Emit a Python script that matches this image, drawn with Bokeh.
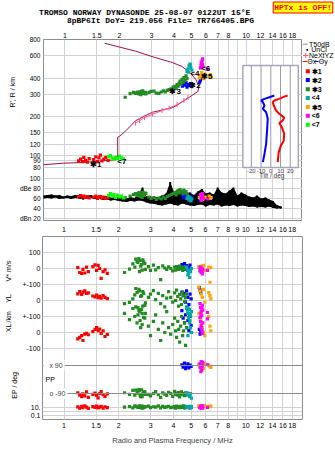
import math
from bokeh.plotting import figure
from bokeh.models import (Range1d, LinearScale, LogScale, LogAxis, FixedTicker,
                          Label, Span, CustomJSTickFormatter)
from bokeh.layouts import column, row
from bokeh.embed import file_html
from bokeh.resources import INLINE

# ---------------- tick values / labels ----------------
FREQ_TICKS = [1, 1.5, 2, 3, 4, 5, 6, 7, 8, 10, 12, 14, 16, 18]
FREQ_TICKS_MID = [1, 1.5, 2, 3, 4, 5, 6, 7, 8, 9, 10, 12, 14, 16, 18]
HEIGHT_TICKS = [80, 90, 100, 120, 150, 200, 300, 400, 600, 800]
AMP_TICKS = [20, 40, 60, 80, 100]
AMP_TICK_LABELS = ["dBn 20", "40", "60", "dBe 80", "100"]
TILT_TICKS = [-20, -10, 0, 10, 20]

# ---------------- model / profile curves ----------------
PROFILE_F = [0.761, 0.98, 1.26, 1.60, 1.91, 1.955, 1.955, 2.00, 2.17, 2.46, 3.04, 3.91,
             4.21, 4.66, 5.02, 5.42, 5.49, 5.28, 4.90, 4.43, 3.91, 3.10, 2.46, 1.654]
PROFILE_H = [84.0, 86.4, 87.5, 90.0, 91.9, 94.0, 138, 140, 155, 186, 216, 234,
             248, 272, 292, 314, 344, 389, 442, 492, 529, 582, 648, 748]
NEXT_F = [2.45, 2.58, 2.75, 3.04, 3.44, 3.76, 4.16, 4.54, 4.78]
NEXT_H = [178, 186, 196, 208, 223, 233, 248, 267, 282]

# ---------------- tilt profiles (inset) ----------------
TILTX_H = [292, 283, 275, 267, 259, 244, 230, 216, 192, 156, 122, 102, 88]
TILTX_DEG = [3.7, -1.4, -6.5, -9.9, -8.1, -6.5, -8.1, -4.8, -3.1, -3.8, -4.8, -6.5, -8.1]
TILTY_H = [292, 286, 275, 267, 259, 244, 223, 210, 196, 186, 178, 166, 147, 129, 119, 105, 88]
TILTY_DEG = [17.3, 13.8, 8.7, 3.7, 2.0, 3.1, 5.4, 8.7, 13.8, 12.2, 8.7, 11.2, 13.8, 13.2, 10.5, 8.1, 7.1]

# ---------------- amplitude trace (T50dB) ----------------
AMP_F = [0.761, 0.800, 0.842, 0.885, 0.931, 0.979, 1.03, 1.08, 1.14, 1.20, 1.26, 1.32, 1.39,
         1.46, 1.54, 1.62, 1.70, 1.79, 1.88, 1.98, 2.08, 2.19, 2.30, 2.42, 2.55, 2.68, 2.82,
         2.96, 3.11, 3.28, 3.44, 3.62, 3.81, 4.01, 4.21, 4.43, 4.66, 4.90, 5.15, 5.42, 5.70,
         5.99, 6.30, 6.63, 6.97, 7.33, 7.71, 8.11, 8.52, 8.96, 9.43, 9.91, 10.4, 11.0, 11.5,
         12.1, 12.8, 13.4, 14.1, 14.8, 15.6]
AMP_MIN = [60, 61, 60, 62, 59, 60, 61, 59, 61, 60, 58, 60, 61, 59, 60, 57, 58, 56, 57, 55,
           54, 53, 55, 54, 56, 55, 52, 50, 49, 47, 46, 48, 50, 47, 46, 50, 48, 46, 45, 47,
           48, 44, 47, 46, 48, 44, 46, 45, 47, 44, 46, 45, 43, 44, 42, 43, 42, 44, 41, 40, 40]
AMP_MAX = [66, 67, 68, 66, 67, 64, 66, 65, 67, 66, 64, 66, 67, 63, 66, 63, 65, 62, 64, 63,
           62, 60, 63, 61, 70, 82, 64, 64, 62, 63, 66, 70, 93, 72, 70, 75, 69, 72, 67, 74,
           79, 70, 72, 68, 82, 72, 70, 76, 82, 66, 72, 68, 64, 62, 66, 60, 62, 58, 55, 47, 44]

# ---------------- echo clusters ----------------
RED_F = [1.19, 1.22, 1.25, 1.27, 1.30, 1.33, 1.36, 1.44, 1.48, 1.51, 1.54, 1.57, 1.60, 1.64, 1.68, 1.73]
RED_H = [90, 93, 89, 96, 91, 88, 94, 92, 97, 89, 95, 100, 90, 93, 96, 91]
RED_AMP = [64, 66, 63, 65, 62, 64, 61, 63, 65, 60, 62, 64, 61, 63, 60, 62]
RED_VS = [5, -25, -31, -5, -28, 8, -20, 12, 23, -12, 19, 0, -62, -19, -8, -30]
RED_YL = [42, 56, 38, 52, 60, 45, 48, 28, 22, 34, 18, 26, 14, 30, 20, 12]
RED_XL = [-40, -30, -19, -50, -10, -6, -14, 6, 19, 31, 12, 22, -6, 10, -25, -12]
RED_PP = [-85, -100, -110, -92, -105, -80, -115, -95, -88, -102, -118, -90, -78, -98, -108, -93]
RED_EP = [12, 6, 15, 8, 20, 10, 5, 14, 9, 18, 7, 11, 16, 6, 13, 8]

GRN_F = [2.15, 2.29, 2.39, 2.45, 2.52, 2.58, 2.64, 2.71, 2.78, 2.91, 2.99, 3.10, 3.19, 3.30,
         3.40, 3.49, 3.58, 3.67, 3.76, 3.86, 3.96, 4.06, 4.11, 4.16, 4.22, 4.27, 4.32, 4.38,
         4.43, 4.49, 4.54, 4.60, 4.66, 4.72, 2.48, 2.55, 2.60, 2.62, 2.67, 2.69, 2.74, 2.80]
GRN_H = [283, 302, 309, 303, 311, 305, 314, 302, 309, 309, 314, 316, 305, 303, 311, 317, 311,
         320, 325, 329, 339, 345, 332, 355, 345, 364, 378, 357, 390, 371, 403, 382, 415, 396,
         306, 300, 312, 296, 308, 318, 305, 300]
GRN_AMP = [62, 65, 68, 70, 66, 72, 64, 69, 71, 63, 60, 62, 58, 61, 59, 63, 60, 64, 66, 68, 70,
           72, 67, 74, 76, 71, 78, 73, 75, 69, 77, 72, 74, 70, 67, 71, 64, 69, 62, 73, 66, 70]
GRN_VS = [-25, -4, 29, 8, 45, 62, 15, 54, 31, 12, -12, 21, -8, 5, -69, 17, 3, -5, 10, 0, -15,
          8, -10, 12, 4, -6, 15, -2, 9, -12, 6, -4, 2, 10, 58, 38, -20, 50, 25, -10, 42, -5]
GRN_YL = [-19, -12, 10, 35, 50, 69, 25, 56, -30, 19, 40, 62, 5, 45, -20, 30, -40, 15, 55, 20,
          -10, 48, 0, 65, 25, -35, 38, 10, -25, 52, 30, -5, 18, 40, 75, -45, 60, -60, 30, -80, 45, -15]
GRN_XL = [120, 80, 150, 100, 60, 140, 30, 165, 90, 40, -20, 70, 110, 20, -50, 60, 0, 130, 30,
          -10, 50, 90, 10, -30, 70, 20, -60, 40, 100, -20, 10, 60, -81, 30, 160, 110, 130, 75,
          145, 50, 95, 120]
GRN_PP = [-85, -95, -70, -100, -88, -65, -110, -92, -80, -96, -105, -90, -78, -98, -115, -86,
          -94, -102, -82, -90, -108, -76, -95, -88, -100, -84, -112, -92, -79, -97, -90, -104,
          -86, -93, -68, -75, -72, -100, -66, -110, -80, -95]
GRN_EP = [10, 14, 7, 20, 12, 9, 16, 6, 11, 18, 8, 13, 10, 22, 7, 15, 9, 12, 17, 8, 11, 14, 6,
          19, 10, 13, 8, 16, 12, 9, 21, 7, 11, 14, 15, 9, 20, 12, 7, 18, 10, 13]

BLU_F = [4.45, 4.52, 4.60, 4.66, 4.72, 4.80, 4.86, 4.93, 5.00, 5.55, 5.60, 5.65]
BLU_H = [345, 360, 352, 368, 340, 356, 348, 362, 344, 372, 385, 398]
BLU_AMP = [66, 62, 68, 60, 64, 58, 65, 61, 63, 60, 57, 62]
BLU_VS = [25, 10, 31, -5, 18, -12, 5, 22, 0, 8, -15, 12]
BLU_YL = [52, 31, 45, -10, 60, 20, -25, 40, 10, 81, 65, 50]
BLU_XL = [137, 90, 60, 110, 30, 75, 12, 100, 45, 20, -10, 5]
BLU_PP = [95, 80, 105, 70, 88, 100, 75, 92, 85, 98, 82, 90]
BLU_EP = [12, 9, 15, 8, 11, 14, 10, 7, 13, 16, 9, 12]

TEA_F = [4.72, 4.78, 4.84, 4.90, 4.96, 5.02, 4.80, 4.92]
TEA_H = [450, 470, 495, 515, 480, 460, 445, 505]
TEA_AMP = [60, 64, 57, 62, 55, 59, 63, 58]
TEA_VS = [5, -10, -30, -55, -20, 0, -40, -15]
TEA_YL = [-40, -60, -80, -55, -95, -70, -45, -85]
TEA_XL = [150, 120, 90, 60, 30, 0, -19, 75]
TEA_PP = [-85, -100, -95, -110, -90, -120, -88, -105]
TEA_EP = [10, 14, 8, 12, 16, 9, 11, 13]

ORG_F = [5.52, 5.60, 5.68, 5.76, 5.85, 5.95, 6.25, 6.35, 6.42]
ORG_H = [400, 420, 440, 410, 395, 430, 415, 425, 405]
ORG_AMP = [62, 60, 64, 58, 61, 63, 65, 60, 62]
ORG_VS = [10, -5, 15, 0, 19, -12, 8, -86, 5]
ORG_YL = [83, 60, 40, 20, 70, -11, 50, 30, 10]
ORG_XL = [119, 90, 60, 30, 0, -19, 100, 40, 10]
ORG_PP = [95, 80, 105, 88, 72, 100, 92, 85, 78]
ORG_EP = [20, 15, 25, 12, 18, 22, 16, 14, 19]

MAG_F = [5.60, 5.64, 5.68, 5.72, 5.76, 5.80, 5.66, 5.74, 6.15]
MAG_H = [480, 500, 520, 545, 565, 490, 530, 510, 470]
MAG_AMP = [68, 62, 58, 65, 70, 60, 56, 64, 59]
MAG_VS = [5, -10, -25, 0, -33, -5, 8, -18, -12]
MAG_YL = [-20, -45, -70, -95, -30, -60, -85, -50, -75]
MAG_XL = [95, 70, 45, 20, -6, 60, 30, 10, 85]
MAG_PP = [100, 75, 115, 60, 90, 110, 50, 85, 95]
MAG_EP = [8, 15, 5, 12, 20, 6, 10, 18, 9]

LIM_F = [1.74, 1.78, 1.82, 1.86, 1.90, 1.95, 2.00, 2.05, 2.10]
LIM_H = [97, 99, 95, 93, 96, 94, 98, 95, 93]
LIM_AMP = [66, 70, 64, 68, 62, 67, 63, 65, 61]

CLUSTER_NAMES = ["\u27311", "\u27312", "\u27313", "<4", "\u27315", "<6", "<7"]
CLUSTER_COLORS = ["#ff0000", "#0000ff", "#228b22", "#00a8a8", "#ffa500", "#ff00ff", "#00ff00"]

# ---------------- styling / geometry constants ----------------
FONT = "Liberation Sans"
MONO = "Liberation Mono"
GRID = "#d2d2d2"
FRAME = "#8c8c8c"
CRIMSON = "#a0104a"
PINK = "#ff5a8c"

F_LO, F_HI = 0.761, 20.5
H_LO, H_HI = 30.8, 800.0
AMPR_LO, AMPR_HI = 16.0, 378.0
TILT_LO, TILT_HI = -233.6, 32.6
INSET_T = (-28.7, 28.3)
INSET_H = (80, 500)

XL_LO, XL_HI = -543.75, 600.0
VS_RANGE = (XL_LO - 400, XL_HI - 400)
YL_RANGE = (XL_LO - 200, XL_HI - 200)
PP_RANGE = (-257.1, 919.3)
EP_RANGE = (10 ** -1.964, 10 ** 42.13)


def fmt(ticks, texts):
    return CustomJSTickFormatter(args=dict(tv=list(ticks), tt=list(texts)), code="""
        let best = 0, bd = Infinity;
        for (let i = 0; i < tv.length; i++) {
            const d = Math.abs(tv[i] - tick);
            if (d < bd) { bd = d; best = i; }
        }
        return tt[best];
    """)


def style_axis(ax, size="7px", standoff=2):
    ax.axis_line_color = None
    ax.major_tick_line_color = None
    ax.minor_tick_line_color = None
    ax.major_tick_out = 0
    ax.major_tick_in = 0
    ax.minor_tick_out = 0
    ax.minor_tick_in = 0
    ax.major_label_text_font = FONT
    ax.major_label_text_font_size = size
    ax.major_label_text_color = "black"
    ax.major_label_standoff = standoff


def lbl(fig, x, y, text, size="7px", font=FONT, color="black", align="left",
        angle=0, style="normal", xu="data", yu="data", **kw):
    fig.add_layout(Label(x=x, y=y, x_units=xu, y_units=yu, text=text, text_font=font,
                         text_font_size=size, text_color=color, text_align=align,
                         text_baseline="middle", angle=angle, angle_units="deg",
                         text_font_style=style, **kw))


def fnum(t):
    return "%g" % t


def aux(w, h):
    """plain pixel-space canvas for titles / legend (y grows downward)"""
    f = figure(width=w, height=h, x_range=Range1d(0, w), y_range=Range1d(h, 0),
               x_axis_location=None, y_axis_location=None, output_backend="svg",
               toolbar_location=None, min_border=0)
    f.grid.visible = False
    f.outline_line_color = None
    return f


# ======================= HEADER =======================
header = aux(335, 29)
lbl(header, 149, 12.3, "TROMSO NORWAY   DYNASONDE 25-08-07 0122UT 15\u00b0E", size="8px",
    font=MONO, align="center", style="bold")
lbl(header, 160, 20.3, "8pBP6It DoY= 219.056 File= TR766405.BPG", size="8px",
    font=MONO, align="center", style="bold")
lbl(header, 302.5, 7, "HPTx is OFF!", size="8px", font=MONO, color="#ff0000", align="center",
    style="bold", background_fill_color="#ffff00", border_line_color="#ff0000", padding=1)

# ======================= TOP FIGURE (heights + amplitude) =======================
top = figure(width=286, height=192, x_axis_type="log", y_axis_type="log",
             x_range=Range1d(F_LO, F_HI), y_range=Range1d(H_LO, H_HI),
             x_axis_location="above", output_backend="svg", toolbar_location=None,
             min_border_left=24, min_border_right=0, min_border_top=10, min_border_bottom=1)
top.extra_y_ranges = {"amp": Range1d(AMPR_LO, AMPR_HI)}
top.extra_y_scales = {"amp": LinearScale()}
top.extra_x_ranges = {"tilt": Range1d(TILT_LO, TILT_HI)}
top.extra_x_scales = {"tilt": LinearScale()}
top.outline_line_color = FRAME

lh_lo, lh_hi = math.log10(H_LO), math.log10(H_HI)
amp_as_h = [10 ** (lh_lo + (a - AMPR_LO) / (AMPR_HI - AMPR_LO) * (lh_hi - lh_lo)) for a in AMP_TICKS]
y_ticks = HEIGHT_TICKS + amp_as_h
y_texts = [fnum(h) for h in HEIGHT_TICKS] + AMP_TICK_LABELS

xa = top.xaxis[0]
xa.ticker = FixedTicker(ticks=FREQ_TICKS)
xa.formatter = fmt(FREQ_TICKS, [fnum(t) for t in FREQ_TICKS])
style_axis(xa, standoff=2)
ya = top.yaxis[0]
ya.ticker = FixedTicker(ticks=y_ticks)
ya.formatter = fmt(y_ticks, y_texts)
style_axis(ya, size="6.5px", standoff=3)

top.xgrid.ticker = FixedTicker(ticks=FREQ_TICKS_MID)
top.ygrid.ticker = FixedTicker(ticks=y_ticks)
top.grid.grid_line_color = GRID
top.grid.grid_line_width = 1

# amplitude trace: jagged band plus per-sample spikes
top.varea(x=AMP_F, y1=AMP_MIN, y2=AMP_MAX, y_range_name="amp", fill_color="black")
top.segment(x0=AMP_F, x1=AMP_F, y0=AMP_MIN, y1=AMP_MAX, y_range_name="amp",
            line_color="black", line_width=2)

# inset (tilt)
top.quad(left=[INSET_T[0]], right=[INSET_T[1]], bottom=[INSET_H[0]], top=[INSET_H[1]],
         x_range_name="tilt", fill_color="white", line_color="#a8a8bc", line_width=1.5)
top.segment(x0=TILT_TICKS, x1=TILT_TICKS, y0=[INSET_H[0]] * 5, y1=[INSET_H[1]] * 5,
            x_range_name="tilt", line_color="#9a9aaa", line_width=1)
top.line(TILTX_DEG, TILTX_H, x_range_name="tilt", line_color="#0000ff", line_width=2)
top.line(TILTY_DEG, TILTY_H, x_range_name="tilt", line_color="#ff0000", line_width=2)
for t in TILT_TICKS:
    top.add_layout(Label(x=t, y=50, x_units="data", y_units="screen", x_range_name="tilt",
                         text=str(t), text_font=FONT, text_font_size="6px",
                         text_align="center", text_baseline="middle"))
top.add_layout(Label(x=1.3, y=45, x_units="data", y_units="screen", x_range_name="tilt",
                     text="Tilt / deg", text_font=FONT, text_font_size="6.5px",
                     text_align="center", text_baseline="middle"))

# profile curves
top.line(PROFILE_F, PROFILE_H, line_color=CRIMSON, line_width=1)
top.line(NEXT_F, NEXT_H, line_color=PINK, line_width=1)
top.scatter(NEXT_F, NEXT_H, marker="dash", angle=math.pi / 2, size=5, line_color=PINK, line_width=1)

clusters = [
    (RED_F, RED_H, RED_AMP, RED_VS, RED_YL, RED_XL, RED_PP, RED_EP),
    (BLU_F, BLU_H, BLU_AMP, BLU_VS, BLU_YL, BLU_XL, BLU_PP, BLU_EP),
    (GRN_F, GRN_H, GRN_AMP, GRN_VS, GRN_YL, GRN_XL, GRN_PP, GRN_EP),
    (TEA_F, TEA_H, TEA_AMP, TEA_VS, TEA_YL, TEA_XL, TEA_PP, TEA_EP),
    (ORG_F, ORG_H, ORG_AMP, ORG_VS, ORG_YL, ORG_XL, ORG_PP, ORG_EP),
    (MAG_F, MAG_H, MAG_AMP, MAG_VS, MAG_YL, MAG_XL, MAG_PP, MAG_EP),
    (LIM_F, LIM_H, LIM_AMP, None, None, None, None, None),
]
SQ = 3.2
for (f, h, a, *_), c in zip(clusters, CLUSTER_COLORS):
    top.scatter(f, h, marker="square", size=SQ, fill_color=c, line_color=None)
    top.scatter(f, a, marker="square", size=SQ, fill_color=c, line_color=None, y_range_name="amp")

# cluster tags in the height panel
TAG_AT = [(1.48, 84.5), (5.22, 350), (4.06, 314), (5.22, 434), (6.07, 411), (5.99, 475), (2.06, 89)]
for name, (tx, ty) in zip(CLUSTER_NAMES, TAG_AT):
    lbl(top, tx, ty, name, size="8px", align="center", style="bold")

# left title strip for the top figure
left_a = aux(16, 192)
lbl(left_a, 12, 56, "R', R / km", size="7px", align="center", angle=90)

# legend strip
leg = aux(33, 192)
leg.segment(x0=[0], x1=[5], y0=[5], y1=[5], line_color="#909090", line_width=1)
lbl(leg, 6.5, 5, "T50dB")
leg.scatter([4.7], [11], marker="square", size=1.6, fill_color="black", line_color=None)
lbl(leg, 8.7, 11, "UnCl")
leg.segment(x0=[0.5], x1=[6], y0=[17], y1=[17], line_color=PINK, line_width=1)
leg.scatter([3.2], [17], marker="cross", size=5, line_color=PINK, line_width=1)
lbl(leg, 6.5, 17, "NeXtYZ")
leg.segment(x0=[0], x1=[4.5], y0=[23.3], y1=[23.3], line_color="#ff0000", line_width=1)
lbl(leg, 4.7, 23.3, "\u0398x")
leg.segment(x0=[12], x1=[16.2], y0=[23.3], y1=[23.3], line_color="#0000ff", line_width=1)
lbl(leg, 16.3, 23.3, "\u0398y")
LEG_Y = [33.7, 43, 52.7, 62, 71.7, 81, 90.3]
for name, c, yy in zip(CLUSTER_NAMES, CLUSTER_COLORS, LEG_Y):
    leg.scatter([5.3], [yy], marker="square", size=4, fill_color=c, line_color=None)
    lbl(leg, 9.2, yy, name, size="7px", style="bold")

# ======================= BOTTOM FIGURE (velocities, location, polarisation) =======================
bot = figure(width=316, height=230, x_axis_type="log",
             x_range=Range1d(F_LO, F_HI), y_range=Range1d(XL_LO, XL_HI),
             x_axis_location="above", output_backend="svg", toolbar_location=None,
             min_border_left=21, min_border_right=33, min_border_top=15, min_border_bottom=32)
bot.extra_y_ranges = {"vs": Range1d(*VS_RANGE), "yl": Range1d(*YL_RANGE),
                      "pp": Range1d(*PP_RANGE), "ep": Range1d(*EP_RANGE)}
bot.extra_y_scales = {"vs": LinearScale(), "yl": LinearScale(), "pp": LinearScale(), "ep": LogScale()}
bot.outline_line_color = FRAME


def lin_p(v, r):
    return XL_LO + (v - r[0]) / (r[1] - r[0]) * (XL_HI - XL_LO)


def log_p(v, r):
    return XL_LO + (math.log10(v) - math.log10(r[0])) / (math.log10(r[1]) - math.log10(r[0])) * (XL_HI - XL_LO)


bt = [(lin_p(100, VS_RANGE), "100"), (lin_p(0, VS_RANGE), "0"), (lin_p(-100, VS_RANGE), "+-100"),
      (lin_p(0, YL_RANGE), "0"), (lin_p(-100, YL_RANGE), "+-100"), (0.0, "0"), (-100.0, "-100"),
      (lin_p(90, PP_RANGE), ""), (lin_p(-90, PP_RANGE), ""),
      (log_p(10, EP_RANGE), "10."), (log_p(1, EP_RANGE), ""), (log_p(0.1, EP_RANGE), "0.1")]
b_ticks = [t for t, _ in bt]
b_texts = [s for _, s in bt]

bya = bot.yaxis[0]
bya.ticker = FixedTicker(ticks=b_ticks)
bya.formatter = fmt(b_ticks, b_texts)
style_axis(bya, size="7px", standoff=2)

bxa = bot.xaxis[0]
bxa.ticker = FixedTicker(ticks=FREQ_TICKS_MID)
bxa.formatter = fmt(FREQ_TICKS_MID, [fnum(t) for t in FREQ_TICKS_MID])
style_axis(bxa, standoff=5)

below = LogAxis(ticker=FixedTicker(ticks=FREQ_TICKS), formatter=fmt(FREQ_TICKS, [fnum(t) for t in FREQ_TICKS]),
                axis_label="Radio and Plasma Frequency / MHz")
style_axis(below, standoff=3)
below.axis_label_text_font = FONT
below.axis_label_text_font_size = "7.5px"
below.axis_label_text_font_style = "normal"
below.axis_label_standoff = 5
bot.add_layout(below, "below")

bot.xgrid.ticker = FixedTicker(ticks=FREQ_TICKS_MID)
bot.ygrid.ticker = FixedTicker(ticks=b_ticks)
bot.grid.grid_line_color = GRID
bot.grid.grid_line_width = 1

for v in (90, -90):
    bot.add_layout(Span(location=v, dimension="width", y_range_name="pp",
                        line_color="#8c8c8c", line_width=1.2))

for (f, h, a, vs, yl, xl, pp, ep), c in zip(clusters, CLUSTER_COLORS):
    if vs is None:
        continue
    kw = dict(marker="square", size=SQ, fill_color=c, line_color=None)
    bot.scatter(f, vs, y_range_name="vs", **kw)
    bot.scatter(f, yl, y_range_name="yl", **kw)
    bot.scatter(f, xl, **kw)
    bot.scatter(f, pp, y_range_name="pp", **kw)
    bot.scatter(f, ep, y_range_name="ep", **kw)

lbl(bot, 3, 40, "PP", xu="screen", yu="screen")
for v, s in ((90, "\u00a0\u00a0x 90"), (-90, "\u00a0\u00a0o -90")):
    bot.add_layout(Label(x=1, y=v, x_units="screen", y_units="data", y_range_name="pp",
                         text=s, text_font=FONT, text_font_size="7px", text_align="left",
                         text_baseline="middle", background_fill_color="white", padding=2))

# left title strip for the bottom figure
left_b = aux(19, 230)
lbl(left_b, 8, 43.5, "V* m/s", align="center", angle=90)
lbl(left_b, 8, 78, "YL", align="center", angle=90)
lbl(left_b, 8, 101, "/km", align="center", angle=90)
lbl(left_b, 8, 115, "XL", align="center", angle=90)
lbl(left_b, 14, 187, "EP / deg", align="center", angle=90)

layout = column(header,
                row(left_a, top, leg, spacing=0),
                row(left_b, bot, spacing=0),
                spacing=0)
open("out.html", "w").write(file_html(layout, INLINE))
